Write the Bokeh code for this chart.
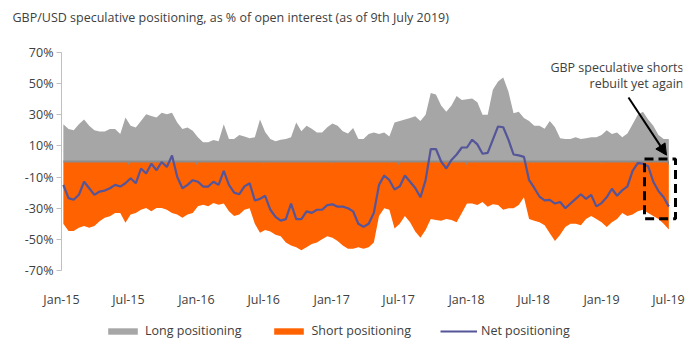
import pandas as pd
from bokeh.plotting import figure
from bokeh.layouts import column
from bokeh.models import (Range1d, FixedTicker, PrintfTickFormatter, DatetimeTickFormatter,
                          Legend, LegendItem, Label, Arrow, NormalHead, ColumnDataSource, Title)
from bokeh.embed import file_html
from bokeh.resources import INLINE

# ---------------- data (fortnightly readings, % of open interest) ----------------
start_date = "2015-01-06"
long_pos = [24, 20.8, 20, 24, 27, 23, 20, 19.3, 19.3, 20.8, 20.8, 17.6, 28.2, 23, 21.8, 26, 30.3, 29.2,
            28.2, 31.3, 30.3, 31.3, 25, 20.8, 21.8, 19.7, 15.5, 12.3, 12.3, 13.8, 13,
            24, 14.5, 14.5, 17, 16, 15, 15.5, 27, 19, 14.5, 13, 14, 14.5, 15.5, 25, 19.5, 22.9, 21,
            18.7, 18.7, 22, 24.4, 23, 19.5, 18, 21.5, 14.5, 14.5, 17.6, 18.7,
            17.6, 18.7, 16, 25, 26, 27, 28, 29, 26, 30, 44, 43, 36, 32, 36, 42, 39.5, 40, 40.5, 38,
            30, 30, 46, 51.4, 54, 45, 31, 32, 28, 26,
            23, 23, 21, 26, 22, 15, 14.5, 14.5, 15.5, 14.5, 15, 15.5, 15.5, 17, 20, 17.6, 18.7, 15.5,
            18, 24, 30, 32, 27, 23, 17, 14.5, 14.5]
short_pos = [-40, -44.6, -44.6, -42.5, -41.5, -42.5, -41.5, -38.3, -36.2, -35.1, -33, -33, -39.4, -34,
             -33, -31, -29.8, -32, -29.8, -29.8, -31, -33, -34, -36.2, -34, -33, -28.8, -27.7, -28.8,
             -26.7, -27.7,
             -27, -32, -35, -34, -31, -30, -40, -45.7, -44, -45, -47, -48, -52, -54, -55, -57, -55, -53,
             -52, -50, -48, -49, -51, -54, -56, -56, -55, -56, -55, -52,
             -35, -30, -31, -43, -40, -35, -39, -45, -49, -44, -37, -37.5, -38, -37, -37.5, -39, -33,
             -27, -27, -28, -26, -29, -27.5, -28, -31, -30, -30, -28, -23, -37,
             -38, -39, -41, -46, -51, -47, -42, -40, -40, -41, -37, -35, -37, -39, -42, -39, -37, -33,
             -35, -34, -32, -31, -33, -35, -37, -40, -43.6]
net_pos = [-15, -23.5, -24.6, -21.4, -13, -17.2, -21.4, -19.3, -18.7, -17.2, -15, -16.1, -14, -10.8,
           -14, -4.5, -7.7, -1.4, -5.6, -0.3, -3.5, 3.9, -9.8, -17.2, -15, -12, -13, -16.1, -16.1,
           -13, -15,
           -6, -15, -20, -21, -16, -14, -25, -24, -22, -31, -35.5, -38, -37, -27, -37, -37, -32, -33,
           -31, -31, -28, -27.5, -29, -29, -30, -32, -40, -42, -40, -33,
           -15, -9, -12, -18, -16, -9, -13, -17, -23, -12, 8, 8, 0, -4.5, 1, 4.5, 9, 9, 14, 11,
           5, 5.5, 14, 22.5, 22, 14, 4.5, 3.9, 3, -12,
           -17, -22.5, -25, -24.6, -27, -26, -30, -27, -24, -21, -24, -21.5, -28.8, -26.7, -23,
           -17.5, -22, -18.5, -16, -6, -1, -1.4, -3, -13, -19, -23, -29]
tick_dates = ["2015-01-01", "2015-07-01", "2016-01-01", "2016-07-01", "2017-01-01", "2017-07-01",
              "2018-01-01", "2018-07-01", "2019-01-01", "2019-07-01"]
y_ticks = [-70, -50, -30, -10, 10, 30, 50, 70]
series_labels = ["Long positioning", "Short positioning", "Net positioning"]
title_text = "GBP/USD speculative positioning, as % of open interest (as of 9th July 2019)"
note_lines = ["GBP speculative shorts", "rebuilt yet again"]

dates = pd.date_range(start_date, periods=len(long_pos), freq="14D")
src = ColumnDataSource(dict(date=dates, long=long_pos, short=short_pos, net=net_pos,
                            zero=[0] * len(long_pos)))

# ---------------- layout ----------------
FONT = "Open Sans"
TXT = "#404040"
GRAY, ORANGE, NAVY = "#A6A6A6", "#FF6200", "#55559A"
W, H1, H2 = 690, 310, 40
x_start = pd.Timestamp("2015-01-01")
x_end = pd.Timestamp("2019-08-08")
FL, FR, FT, FB = 61, 682, 52, 275  # frame edges on the canvas


def xd(px):
    days = (px - FL) * (x_end - x_start).days / (FR - FL)
    return (x_start + pd.Timedelta(days=days)).value / 1e6


def yd(py):
    return 70 - (py - FT) * 140 / (FB - FT)


p = figure(width=W, height=H1, x_axis_type="datetime", output_backend="svg",
           toolbar_location=None, x_range=Range1d(x_start, x_end), y_range=Range1d(-70, 70),
           min_border_left=FL, min_border_right=W - FR, min_border_top=FT,
           min_border_bottom=H1 - FB)
p.outline_line_color = None
p.grid.visible = False
p.background_fill_color = "white"
p.border_fill_color = "white"

# main title (outermost) plus a blank white spacer title between it and the frame
p.title.text = title_text
p.title.text_font = FONT
p.title.text_font_size = "12.5px"
p.title.text_font_style = "normal"
p.title.text_color = TXT
p.title.align = "left"
p.title.offset = 12 - FL
p.title.vertical_align = "bottom"
p.title.standoff = 0
p.add_layout(Title(text="\u00a0", text_font_size="1px", text_color="white", standoff=24), "above")

p.varea(x="date", y1="zero", y2="long", source=src, fill_color=GRAY)
p.varea(x="date", y1="short", y2="zero", source=src, fill_color=ORANGE)
p.line(x="date", y="zero", source=src, line_color="#8C8C8C", line_width=2)
tick_ts = pd.to_datetime(tick_dates)
p.segment(x0=tick_ts, y0=[0] * len(tick_ts), x1=tick_ts, y1=[-2] * len(tick_ts),
          line_color="#8C8C8C", line_width=1)
p.line(x="date", y="net", source=src, line_color=NAVY, line_width=2.2)

# axes
p.yaxis.ticker = FixedTicker(ticks=y_ticks)
p.yaxis.formatter = PrintfTickFormatter(format="%d%%")
p.yaxis.axis_line_color = "#BFBFBF"
p.yaxis.major_tick_line_color = "#BFBFBF"
p.yaxis.major_tick_out = 5
p.yaxis.major_tick_in = 0
p.yaxis.minor_tick_line_color = None
p.yaxis.major_label_standoff = 3

p.xaxis.ticker = FixedTicker(ticks=[t.value / 1e6 for t in tick_ts])
fmt = "%b-%y"
p.xaxis.formatter = DatetimeTickFormatter(days=fmt, months=fmt, years=fmt, hours=fmt,
                                          minutes=fmt, seconds=fmt, milliseconds=fmt)
p.xaxis.axis_line_color = None
p.xaxis.major_tick_line_color = None
p.xaxis.minor_tick_line_color = None
p.xaxis.major_label_standoff = 14

for ax in (p.xaxis, p.yaxis):
    ax.major_label_text_font = FONT
    ax.major_label_text_font_size = "12.5px"
    ax.major_label_text_color = TXT

# annotation
for i, line in enumerate(note_lines):
    p.add_layout(Label(x=xd(683), y=yd(67 + 17 * i), text=line, text_font=FONT,
                       text_font_size="12.5px", text_color=TXT, text_align="right",
                       text_baseline="middle"))
p.add_layout(Arrow(end=NormalHead(size=11, fill_color="black", line_color="black"),
                   x_start=xd(628), y_start=yd(98), x_end=xd(666), y_end=yd(157),
                   line_color="black", line_width=2))
p.quad(left=[xd(644)], right=[xd(675)], top=[yd(161)], bottom=[yd(222)], fill_alpha=0,
       line_color="black", line_width=3, line_dash="9 5")

# ---------------- legend strip (separate small figure below) ----------------
q = figure(width=W, height=H2, output_backend="svg", toolbar_location=None,
           x_axis_location=None, y_axis_location=None, min_border=0,
           min_border_left=FL, min_border_right=W - FR,
           x_range=Range1d(0, 1), y_range=Range1d(0, 1))
q.outline_line_color = None
q.grid.visible = False
# same series, far outside this strip's ranges: only their legend swatches show
g_long = q.varea(x="date", y1="zero", y2="long", source=src, fill_color=GRAY)
g_short = q.varea(x="date", y1="short", y2="zero", source=src, fill_color=ORANGE)
g_net = q.line(x="date", y="net", source=src, line_color=NAVY, line_width=2)
legend = Legend(items=[LegendItem(label=series_labels[0], renderers=[g_long]),
                       LegendItem(label=series_labels[1], renderers=[g_short]),
                       LegendItem(label=series_labels[2], renderers=[g_net])],
                orientation="horizontal", location=(104 - FL, H2 - (329 - H1) - 10),
                glyph_width=37, glyph_height=8, label_height=14, label_standoff=4, spacing=29,
                padding=0, margin=0, border_line_color=None, background_fill_alpha=0,
                label_text_font=FONT, label_text_font_size="12.5px", label_text_color=TXT)
q.add_layout(legend, "center")

layout = column(p, q, spacing=0)
open("out.html", "w").write(file_html(layout, INLINE))
